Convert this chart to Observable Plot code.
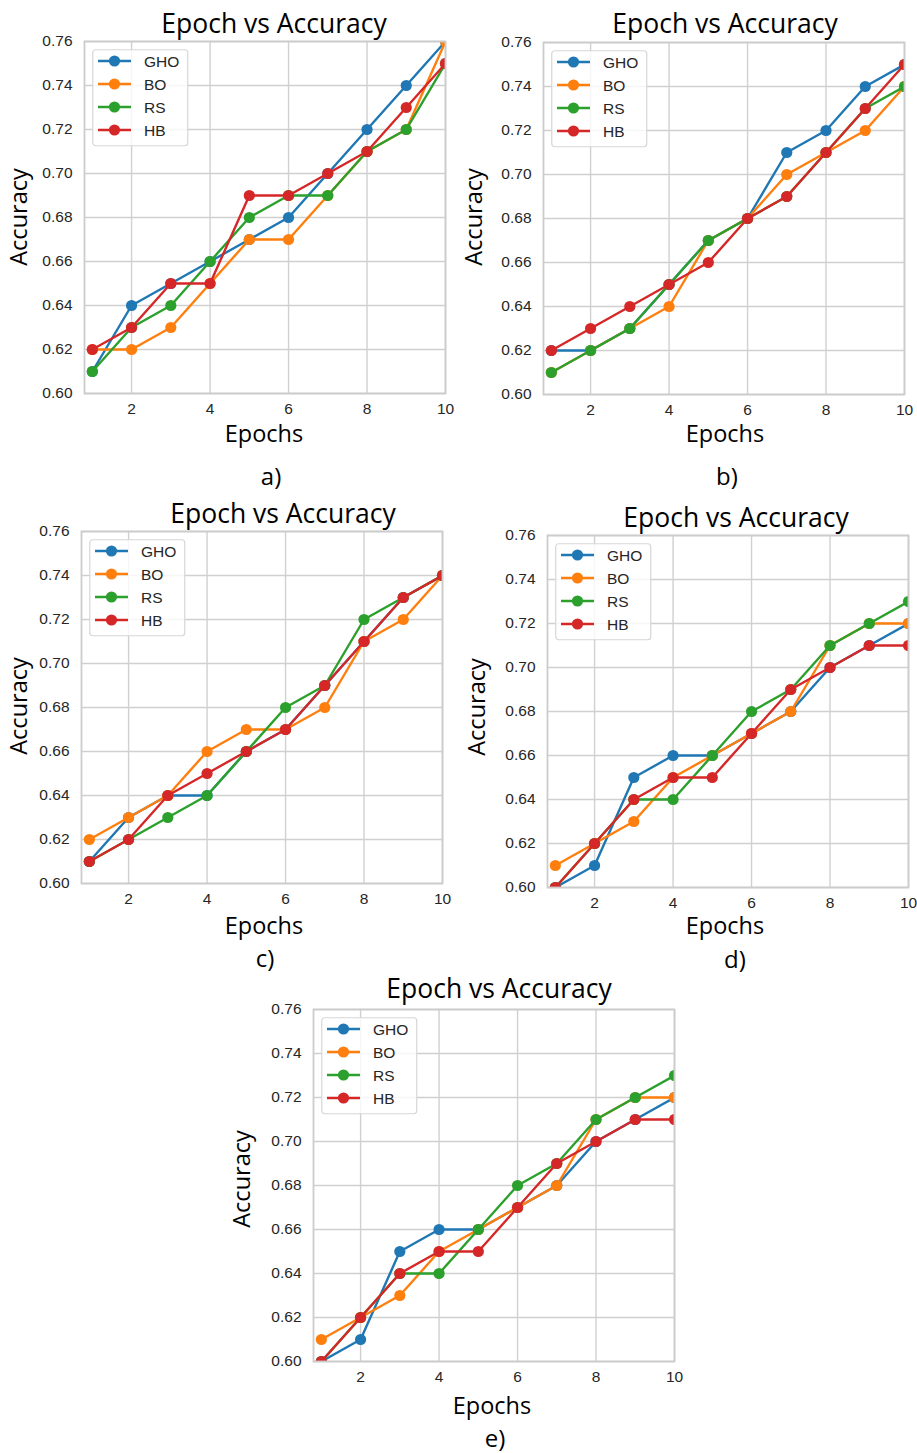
<!DOCTYPE html>
<html><head><meta charset="utf-8">
<script src="https://cdn.jsdelivr.net/npm/d3@7"></script>
<script src="https://cdn.jsdelivr.net/npm/@observablehq/plot@0.6"></script>
<style>
html,body{margin:0;padding:0;background:#fff;overflow:hidden;}
#page{position:relative;width:917px;height:1453px;background:#fff;overflow:hidden;}
.t{position:absolute;font-family:"Open Sans",sans-serif;color:#000;white-space:nowrap;line-height:1;transform:translate(-50%,-50%);}
.title{font-size:26.5px;}
.axl{font-size:23.5px;}
.rot{transform:translate(-50%,-50%) rotate(-90deg);}
.sub{font-size:24px;}
.plot{position:absolute;}
.leg{position:absolute;}
</style>
</head><body><div id="page"></div>
<script>
const epochs = [1, 2, 3, 4, 5, 6, 7, 8, 9, 10];
const seriesNames = ["GHO", "BO", "RS", "HB"];
const seriesColors = ["#1f77b4", "#ff7f0e", "#2ca02c", "#d62728"];
const xTicks = [2, 4, 6, 8, 10];
const yTicks = [0.60, 0.62, 0.64, 0.66, 0.68, 0.70, 0.72, 0.74, 0.76];
const panelLabels = ["a)", "b)", "c)", "d)", "e)"];
const titleText = "Epoch vs Accuracy";
const xLabel = "Epochs";
const yLabel = "Accuracy";

// panel a
const ghoA = [0.61, 0.64, 0.65, 0.66, 0.67, 0.68, 0.70, 0.72, 0.74, 0.76];
const boA  = [0.62, 0.62, 0.63, 0.65, 0.67, 0.67, 0.69, 0.71, 0.72, 0.76];
const rsA  = [0.61, 0.63, 0.64, 0.66, 0.68, 0.69, 0.69, 0.71, 0.72, 0.75];
const hbA  = [0.62, 0.63, 0.65, 0.65, 0.69, 0.69, 0.70, 0.71, 0.73, 0.75];
// panel b
const ghoB = [0.62, 0.62, 0.63, 0.65, 0.67, 0.68, 0.71, 0.72, 0.74, 0.75];
const boB  = [0.61, 0.62, 0.63, 0.64, 0.67, 0.68, 0.70, 0.71, 0.72, 0.74];
const rsB  = [0.61, 0.62, 0.63, 0.65, 0.67, 0.68, 0.69, 0.71, 0.73, 0.74];
const hbB  = [0.62, 0.63, 0.64, 0.65, 0.66, 0.68, 0.69, 0.71, 0.73, 0.75];
// panel c
const ghoC = [0.61, 0.63, 0.64, 0.64, 0.66, 0.67, 0.69, 0.71, 0.73, 0.74];
const boC  = [0.62, 0.63, 0.64, 0.66, 0.67, 0.67, 0.68, 0.71, 0.72, 0.74];
const rsC  = [0.61, 0.62, 0.63, 0.64, 0.66, 0.68, 0.69, 0.72, 0.73, 0.74];
const hbC  = [0.61, 0.62, 0.64, 0.65, 0.66, 0.67, 0.69, 0.71, 0.73, 0.74];
// panel d
const ghoD = [0.60, 0.61, 0.65, 0.66, 0.66, 0.67, 0.68, 0.70, 0.71, 0.72];
const boD  = [0.61, 0.62, 0.63, 0.65, 0.66, 0.67, 0.68, 0.71, 0.72, 0.72];
const rsD  = [0.60, 0.62, 0.64, 0.64, 0.66, 0.68, 0.69, 0.71, 0.72, 0.73];
const hbD  = [0.60, 0.62, 0.64, 0.65, 0.65, 0.67, 0.69, 0.70, 0.71, 0.71];
// panel e
const ghoE = [0.60, 0.61, 0.65, 0.66, 0.66, 0.67, 0.68, 0.70, 0.71, 0.72];
const boE  = [0.61, 0.62, 0.63, 0.65, 0.66, 0.67, 0.68, 0.71, 0.72, 0.72];
const rsE  = [0.60, 0.62, 0.64, 0.64, 0.66, 0.68, 0.69, 0.71, 0.72, 0.73];
const hbE  = [0.60, 0.62, 0.64, 0.65, 0.65, 0.67, 0.69, 0.70, 0.71, 0.71];

const panelSeries = [
  [ghoA, boA, rsA, hbA],
  [ghoB, boB, rsB, hbB],
  [ghoC, boC, rsC, hbC],
  [ghoD, boD, rsD, hbD],
  [ghoE, boE, rsE, hbE]
];

// layout (frame rectangles and text anchors, in page pixels)
const layout = [
  {L: 84,  R: 445, T: 41,   B: 393,  title: [274, 23],  xl: [264, 434],  yl: [19, 217],   sub: [271, 476]},
  {L: 543, R: 904, T: 42,   B: 394,  title: [725, 23],  xl: [725, 434],  yl: [474, 217],  sub: [727, 476]},
  {L: 81,  R: 442, T: 531,  B: 883,  title: [283, 513], xl: [264, 926],  yl: [19, 706],   sub: [265, 958]},
  {L: 547, R: 908, T: 535,  B: 887,  title: [736, 517], xl: [725, 926],  yl: [477, 707],  sub: [735, 959]},
  {L: 313, R: 674, T: 1009, B: 1361, title: [499, 988], xl: [492, 1406], yl: [242, 1179], sub: [495, 1438]}
];

const page = document.getElementById("page");
function addText(cls, txt, x, y) {
  const d = document.createElement("div");
  d.className = "t " + cls;
  d.textContent = txt;
  d.style.left = x + "px";
  d.style.top = y + "px";
  page.appendChild(d);
}

const mL = 60, mT = 10, mB = 30, mR = 12;
layout.forEach((lay, pi) => {
  const rows = [];
  panelSeries[pi].forEach((vals, si) => {
    vals.forEach((v, i) => rows.push({epoch: epochs[i], acc: v, series: seriesNames[si]}));
  });
  const marks = [
    Plot.gridX(xTicks, {stroke: "#d0d0d0", strokeOpacity: 1, strokeWidth: 1.4}),
    Plot.gridY(yTicks, {stroke: "#d0d0d0", strokeOpacity: 1, strokeWidth: 1.4}),
    Plot.axisX(xTicks, {tickSize: 0, tickPadding: 9, label: null, fontSize: 15.5, tickFormat: d => String(d)}),
    Plot.axisY(yTicks, {tickSize: 0, tickPadding: 12, label: null, fontSize: 15.5, tickFormat: d3.format(".2f")})
  ];
  seriesNames.forEach((name, si) => {
    const data = rows.filter(r => r.series === name);
    marks.push(Plot.line(data, {x: "epoch", y: "acc", stroke: seriesColors[si], strokeWidth: 2.4, clip: true}));
    marks.push(Plot.dot(data, {x: "epoch", y: "acc", fill: seriesColors[si], r: 5.6, clip: true}));
  });
  marks.push(Plot.frame({stroke: "#cccccc", strokeWidth: 1.8}));
  const W = (lay.R - lay.L) + mL + mR;
  const H = (lay.B - lay.T) + mT + mB;
  const chart = Plot.plot({
    width: W, height: H,
    marginLeft: mL, marginRight: mR, marginTop: mT, marginBottom: mB,
    x: {domain: [0.8, 10]},
    y: {domain: [0.60, 0.76]},
    style: {fontFamily: "'Liberation Sans', Arial, sans-serif", fontSize: "15.5px", color: "#262626", background: "transparent", overflow: "visible"},
    marks
  });
  chart.classList.add("plot");
  chart.style.left = (lay.L - mL) + "px";
  chart.style.top = (lay.T - mT) + "px";
  page.appendChild(chart);

  // legend
  const ns = "http://www.w3.org/2000/svg";
  const leg = document.createElementNS(ns, "svg");
  leg.setAttribute("width", 97); leg.setAttribute("height", 98);
  leg.setAttribute("class", "leg");
  leg.style.left = (lay.L + 8) + "px";
  leg.style.top = (lay.T + 8) + "px";
  const box = document.createElementNS(ns, "rect");
  box.setAttribute("x", 0.75); box.setAttribute("y", 0.75);
  box.setAttribute("width", 95); box.setAttribute("height", 96);
  box.setAttribute("rx", 3);
  box.setAttribute("fill", "rgba(255,255,255,0.8)");
  box.setAttribute("stroke", "#d6d6d6"); box.setAttribute("stroke-width", 1.2);
  leg.appendChild(box);
  seriesNames.forEach((name, si) => {
    const yy = 12 + si * 23;
    const ln = document.createElementNS(ns, "line");
    ln.setAttribute("x1", 6); ln.setAttribute("x2", 39);
    ln.setAttribute("y1", yy); ln.setAttribute("y2", yy);
    ln.setAttribute("stroke", seriesColors[si]); ln.setAttribute("stroke-width", 2.4);
    leg.appendChild(ln);
    const c = document.createElementNS(ns, "circle");
    c.setAttribute("cx", 22.5); c.setAttribute("cy", yy); c.setAttribute("r", 5.6);
    c.setAttribute("fill", seriesColors[si]);
    leg.appendChild(c);
    const tx = document.createElementNS(ns, "text");
    tx.setAttribute("x", 52); tx.setAttribute("y", yy);
    tx.setAttribute("dy", "0.36em");
    tx.setAttribute("font-family", "'Liberation Sans', Arial, sans-serif");
    tx.setAttribute("font-size", "15.5");
    tx.setAttribute("fill", "#262626");
    tx.textContent = name;
    leg.appendChild(tx);
  });
  page.appendChild(leg);

  addText("title", titleText, lay.title[0], lay.title[1]);
  addText("axl", xLabel, lay.xl[0], lay.xl[1]);
  addText("axl rot", yLabel, lay.yl[0], lay.yl[1]);
  addText("sub", panelLabels[pi], lay.sub[0], lay.sub[1]);
});
</script>
</body></html>
